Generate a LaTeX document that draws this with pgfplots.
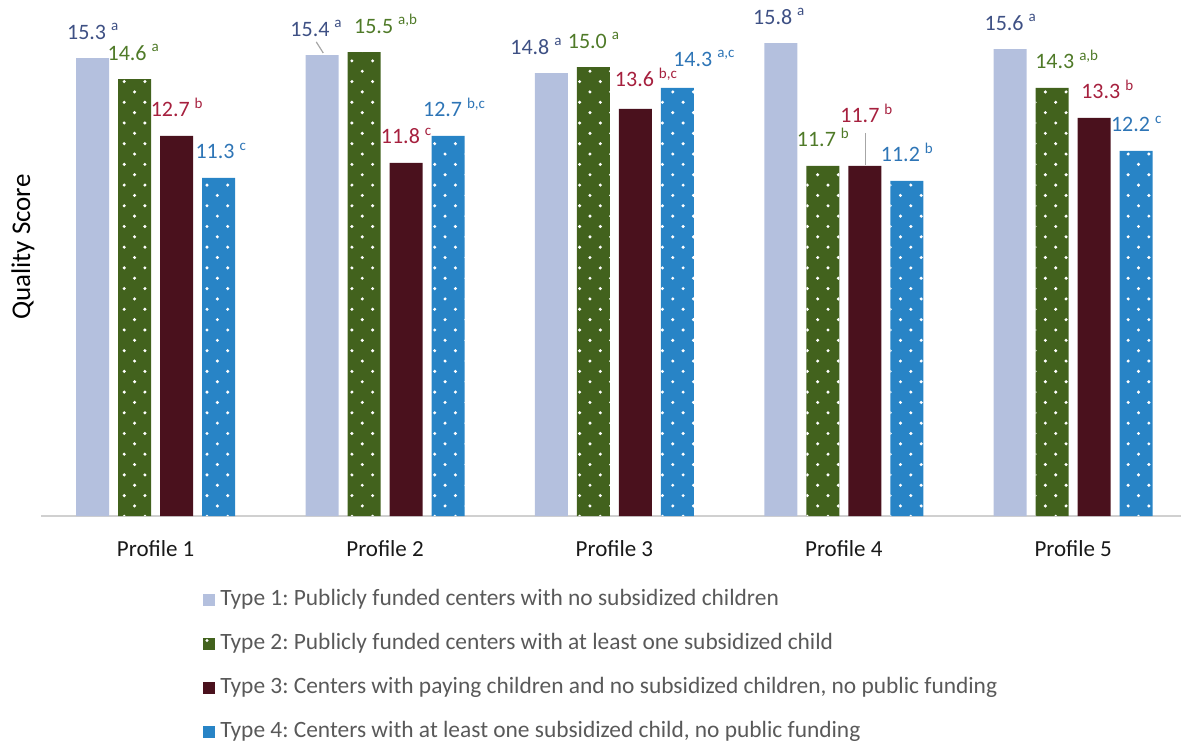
\documentclass[border=0pt]{standalone}
\usepackage{fontspec}
\setmainfont{Carlito}
\usepackage{pgfplots}
\pgfplotsset{compat=1.18}
\usepackage{pgfplotstable}
\usetikzlibrary{patterns}
\frenchspacing

\definecolor{t1}{RGB}{180,192,222}
\definecolor{t2}{RGB}{66,98,29}
\definecolor{t3}{RGB}{74,17,29}
\definecolor{t4}{RGB}{40,132,198}
\definecolor{l1}{RGB}{62,80,132}
\definecolor{l2}{RGB}{79,122,40}
\definecolor{l3}{RGB}{166,32,62}
\definecolor{l4}{RGB}{46,117,182}
\definecolor{axgray}{RGB}{208,208,208}
\definecolor{legtext}{RGB}{89,89,89}

% white dots, staggered
\pgfdeclarepatternformonly{wdots}{\pgfqpoint{-1pt}{-1pt}}{\pgfqpoint{9.35pt}{9.35pt}}{\pgfqpoint{10.35pt}{10.35pt}}{%
  \pgfpathcircle{\pgfqpoint{0pt}{0pt}}{0.85pt}
  \pgfpathcircle{\pgfqpoint{5.175pt}{5.175pt}}{0.85pt}
  \pgfusepath{fill}}

\protected\def\sps#1{\raisebox{4.3pt}{\fontsize{7.5}{8}\selectfont #1}}
% label moved by #1 pt right and #2 pt up
\protected\def\lb#1#2#3{\raisebox{#2pt}{\makebox[0pt]{\hspace*{#1pt}\hspace*{#1pt}#3}}}

\pgfplotsset{sqlegend/.style={legend image code/.code={\path[##1,draw=none] (0pt,-3pt) rectangle (6pt,3pt);}}}

\pgfplotstableread[col sep=semicolon]{
x;y;lbl
1;15.3;15.3 \sps{a}
2;15.4;\lb{-3}{0}{15.4 \sps{a}}
3;14.8;\lb{-7.75}{0}{14.8 \sps{a}}
4;15.8;\lb{-1}{0}{15.8 \sps{a}}
5;15.6;15.6 \sps{a}
}\tA
\pgfplotstableread[col sep=semicolon]{
x;y;lbl
1;14.6;\lb{-0.75}{0}{14.6 \sps{a}}
2;15.5;\lb{10.75}{0}{15.5 \sps{a,b}}
3;15.0;15.0 \sps{a}
4;11.7;11.7 \sps{b}
5;14.3;\lb{7.25}{0}{14.3 \sps{a,b}}
}\tB
\pgfplotstableread[col sep=semicolon]{
x;y;lbl
1;12.7;12.7 \sps{b}
2;11.8;11.8 \sps{c}
3;13.6;\lb{5.25}{1.5}{13.6 \sps{b,c}}
4;11.7;\lb{0.75}{12}{11.7 \sps{b}}
5;13.3;\lb{6.5}{0}{13.3 \sps{b}}
}\tC
\pgfplotstableread[col sep=semicolon]{
x;y;lbl
1;11.3;\lb{1}{0}{11.3 \sps{c}}
2;12.7;\lb{3}{0}{12.7 \sps{b,c}}
3;14.3;\lb{13.25}{1.25}{14.3 \sps{a,c}}
4;11.2;11.2 \sps{b}
5;12.2;12.2 \sps{c}
}\tD

\begin{document}
\begin{tikzpicture}
\begin{axis}[
  at={(20.5pt,114pt)}, anchor=south west,
  scale only axis, width=570pt, height=258pt,
  xmin=0.5, xmax=5.47, ymin=0, ymax=17.24,
  ybar=4.5pt, bar width=16.5pt,
  axis x line*=bottom, axis y line*=left,
  y axis line style={draw=none},
  x axis line style={draw=axgray, line width=0.9pt},
  ytick=\empty,
  xtick={1,2,3,4,5},
  xticklabels={Profile 1,Profile 2,Profile 3,Profile 4,Profile 5},
  major tick length=0pt, xtick style={draw=none},
  xticklabel style={font=\fontsize{11.5}{13}\selectfont, text=black!90, anchor=base, yshift=-20pt},
  ylabel={Quality Score},
  ylabel style={font=\fontsize{13.5}{15}\selectfont, at={(axis description cs:-0.0158,0.521)}, anchor=center},
  clip=false,
  nodes near coords, point meta=explicit symbolic,
  nodes near coords style={font=\fontsize{11}{13}\selectfont, inner sep=0pt, anchor=base, yshift=9.5pt},
  legend cell align=left,
  legend style={at={(axis description cs:0.142,-0.138)}, anchor=north west,
    draw=none, fill=none, inner sep=0pt, row sep=10pt,
    font=\fontsize{11.7}{13}\selectfont, text=legtext,
    nodes={inner sep=0.5pt, text height=8.5pt, text depth=2.5pt},
    /tikz/every odd column/.append style={column sep=2pt}},
]
\addplot[fill=t1, draw=none, sqlegend, nodes near coords style={text=l1}]
  table[x=x, y=y, meta=lbl]{\tA};
\addlegendentry{Type 1: Publicly funded centers with no subsidized children}
\addplot[fill=t2, draw=none, postaction={pattern=wdots, pattern color=white}, sqlegend, nodes near coords style={text=l2}]
  table[x=x, y=y, meta=lbl]{\tB};
\addlegendentry{Type 2: Publicly funded centers with at least one subsidized child}
\addplot[fill=t3, draw=none, sqlegend, nodes near coords style={text=l3}]
  table[x=x, y=y, meta=lbl]{\tC};
\addlegendentry{Type 3: Centers with paying children and no subsidized children, no public funding}
\addplot[fill=t4, draw=none, postaction={pattern=wdots, pattern color=white}, sqlegend, nodes near coords style={text=l4}]
  table[x=x, y=y, meta=lbl]{\tD};
\addlegendentry{Type 4: Centers with at least one subsidized child, no public funding}

% leader lines of the two moved labels
\draw[black!35, line width=0.6pt] (axis cs:1.700,15.84) -- (axis cs:1.7305,15.47);
\draw[black!35, line width=0.6pt] (axis cs:4.094,12.80) -- (axis cs:4.094,11.72);
\end{axis}
\pgfresetboundingbox
\path[use as bounding box] (0,0) rectangle (590.5pt,372pt);
\end{tikzpicture}
\end{document}
